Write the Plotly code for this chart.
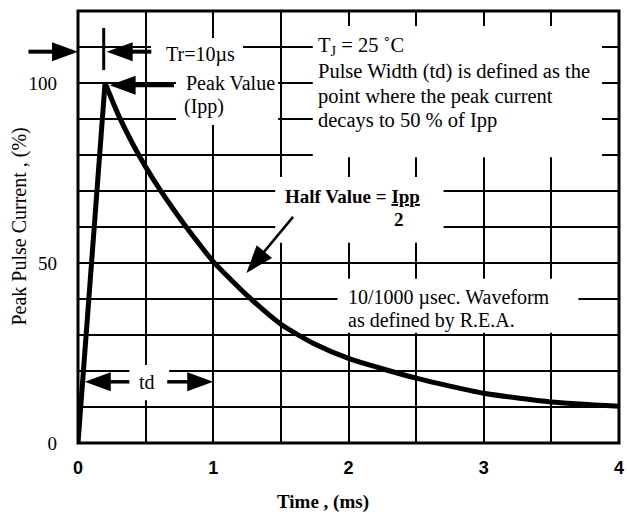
import math
import plotly.graph_objects as go

# ---------------- data ----------------
rise_t = [0.0, 0.2]
rise_i = [0.0, 100.0]

decay_t = [0.2, 0.3, 0.4, 0.5, 0.6, 0.7, 0.8, 0.9, 1.0, 1.25, 1.5, 1.75, 2.0, 2.5, 3.0, 3.5, 4.0]
decay_i = [100.0, 91.0, 83.4, 76.7, 70.7, 65.2, 60.0, 55.1, 50.4, 41.0, 33.0, 27.5, 23.5,
           18.0, 13.8, 11.4, 10.2]

x_ticks = [0, 1, 2, 3, 4]
x_labels = ["0", "1", "2", "3", "4"]
y_ticks = [0, 50, 100]
y_labels = ["0", "50", "100"]

# ---------------- layout constants ----------------
W, H = 627, 514
ML, MR, MT, MB = 78, 3, 11, 71
PLOT_W = W - ML - MR
PLOT_H = H - MT - MB
X_RANGE = [0, 4]
Y_RANGE = [0, 120]
PX_X = PLOT_W / (X_RANGE[1] - X_RANGE[0])
PX_Y = PLOT_H / (Y_RANGE[1] - Y_RANGE[0])

SERIF = "Liberation Serif, Times New Roman, serif"
SANS = "Liberation Sans, Arial, sans-serif"

fig = go.Figure()
fig.add_trace(go.Scatter(x=rise_t, y=rise_i, mode="lines",
                         line=dict(color="black", width=5), hoverinfo="skip"))
fig.add_trace(go.Scatter(x=decay_t, y=decay_i, mode="lines",
                         line=dict(color="black", width=5, shape="spline", smoothing=0.6),
                         hoverinfo="skip"))

shapes = []

# white masks that interrupt the grid behind the text blocks
masks = [
    (0.54, 1.22, 103.6, 112.5),   # Tr=10us
    (0.725, 1.48, 88.3, 104.2),   # Peak Value (Ipp)
    (1.736, 3.875, 79.4, 115.8),  # Tj block
    (1.458, 2.703, 55.6, 73.9),   # Half value
    (1.919, 3.70, 30.6, 45.6),    # 10/1000 waveform
    (0.38, 0.674, 11.9, 21.7),    # td
]
for x0, x1, y0, y1 in masks:
    shapes.append(dict(type="rect", xref="x", yref="y", x0=x0, x1=x1, y0=y0, y1=y1,
                       fillcolor="white", line=dict(width=0), layer="between"))


def arrow(tail, tip, width=3.5, head_len=26, head_w=19, xref="x"):
    sx = PX_X if xref == "x" else PLOT_W
    dx = (tip[0] - tail[0]) * sx
    dy = (tip[1] - tail[1]) * PX_Y
    L = math.hypot(dx, dy)
    ux, uy = dx / L, dy / L
    bx = tip[0] - ux * head_len * 0.85 / sx
    by = tip[1] - uy * head_len * 0.85 / PX_Y
    out = [dict(type="line", xref=xref, yref="y", x0=tail[0], y0=tail[1], x1=bx, y1=by,
                line=dict(color="black", width=width), layer="above")]
    nx, ny = -uy, ux
    p1 = (-ux * head_len + nx * head_w / 2, -uy * head_len + ny * head_w / 2)
    p2 = (-ux * head_len - nx * head_w / 2, -uy * head_len - ny * head_w / 2)
    path = "M0,0 L{:.2f},{:.2f} L{:.2f},{:.2f} Z".format(p1[0], p1[1], p2[0], p2[1])
    out.append(dict(type="path", xref=xref, yref="y", xsizemode="pixel", ysizemode="pixel",
                    xanchor=tip[0], yanchor=tip[1], path=path,
                    fillcolor="black", line=dict(width=0), layer="above"))
    return out


# Tr arrows (left one starts outside the plot -> paper reference)
shapes += arrow((-50 / PLOT_W, 108.7), (0.0, 108.7), width=4, xref="paper")
shapes += arrow((0.542, 108.7), (0.212, 108.7), width=4)
shapes.append(dict(type="line", xref="x", yref="y", x0=0.19, x1=0.19, y0=103.6, y1=115.3,
                   line=dict(color="black", width=3), layer="above"))
# Peak value arrow
shapes += arrow((0.71, 99.4), (0.234, 99.4), width=4)
# td arrows
shapes += arrow((0.38, 17.0), (0.05, 17.0), width=3.5)
shapes += arrow((0.66, 17.0), (1.0, 17.0), width=3.5)
# Half value arrow
shapes += arrow((1.59, 62.8), (1.245, 47.2), width=2.5, head_len=28, head_w=20)

# frame
shapes.append(dict(type="rect", xref="paper", yref="paper", x0=0, x1=1, y0=0, y1=1,
                   line=dict(color="black", width=3), layer="above"))

fig.update_layout(shapes=shapes)

ann = []


def txt(x, y, s, size=20, bold=False, xanchor="left", family=SERIF):
    ann.append(dict(x=x, y=y, xref="x", yref="y", text=(f"<b>{s}</b>" if bold else s),
                    showarrow=False, xanchor=xanchor, yanchor="middle",
                    font=dict(family=family, size=size, color="black")))


txt(0.637, 107.8, "Tr=10µs", size=20)
txt(0.784, 100.1, "Peak Value", size=20)
txt(0.769, 93.4, "(Ipp)", size=20)
txt(1.758, 110.1, "T<sub>J</sub> = 25 ˚C", size=20.5)
txt(1.758, 103.1, "Pulse Width (td) is defined as the", size=20.5)
txt(1.758, 96.2, "point where the peak current", size=20.5)
txt(1.758, 89.7, "decays to 50 % of Ipp", size=20.5)
txt(1.516, 68.6, "Half Value = <u>Ipp</u>", size=19, bold=True)
txt(2.374, 62.2, "2", size=19, bold=True, xanchor="center")
txt(1.985, 40.3, "10/1000 µsec. Waveform", size=20)
txt(1.985, 33.9, "as defined by R.E.A.", size=20)
txt(0.513, 16.9, "td", size=20, xanchor="center")

# axis titles
ann.append(dict(x=(325 - ML) / PLOT_W, y=(MT + PLOT_H - 502) / PLOT_H, xref="paper", yref="paper",
                text="<b>Time , (ms)</b>", showarrow=False, xanchor="center", yanchor="middle",
                font=dict(family=SERIF, size=19, color="black")))
ann.append(dict(x=(18 - ML) / PLOT_W, y=0.5, xref="paper", yref="paper",
                text="Peak Pulse Current , (%)", showarrow=False, textangle=-90,
                xanchor="center", yanchor="middle",
                font=dict(family=SERIF, size=20, color="black")))

fig.update_layout(annotations=ann)

GRID = dict(showgrid=True, gridcolor="black", gridwidth=1.6)

fig.update_layout(
    width=W, height=H,
    margin=dict(l=ML, r=MR, t=MT, b=MB),
    paper_bgcolor="white", plot_bgcolor="white",
    showlegend=False,
    xaxis=dict(range=X_RANGE, tickvals=x_ticks, ticktext=x_labels, **GRID,
               minor=dict(dtick=0.5, tick0=0, **GRID),
               zeroline=False, showline=False,
               ticks="", ticklabelstandoff=12, ticklabeloverflow="allow",
               tickfont=dict(family=SANS, size=18, color="black", weight="bold")),
    yaxis=dict(range=Y_RANGE, tickvals=y_ticks, ticktext=y_labels, **GRID,
               minor=dict(dtick=10, tick0=0, **GRID),
               zeroline=False, showline=False,
               ticks="", ticklabelstandoff=20, ticklabeloverflow="allow",
               tickfont=dict(family=SERIF, size=19, color="black")),
)

fig.write_html("out.html")
